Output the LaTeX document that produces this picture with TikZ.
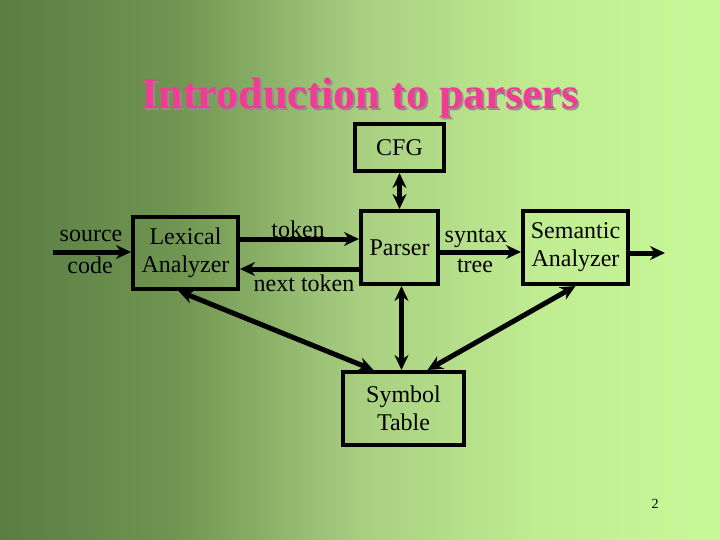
\documentclass[tikz,border=0pt]{standalone}
\usepackage{fontspec}
\setmainfont{Liberation Serif}
\usetikzlibrary{arrows.meta,positioning,calc}
\definecolor{slidepink}{HTML}{F03C96}
\definecolor{shadowgray}{HTML}{9A8A8C}
\definecolor{bgdark}{HTML}{5A7D42}
\definecolor{bgdim}{HTML}{709652}
\definecolor{bgmid}{HTML}{A8CF80}
\definecolor{bglight}{HTML}{C0EC92}
\definecolor{bgpale}{HTML}{C8F998}
\pgfdeclarehorizontalshading{slidebg}{100bp}{color(0bp)=(bgdark); color(25bp)=(bgdark); color(37.5bp)=(bgdim); color(50bp)=(bgmid); color(62.5bp)=(bglight); color(75bp)=(bgpale); color(100bp)=(bgpale)}
\newcommand{\slidebody}{\fontsize{24}{28}\selectfont}
\newcommand{\slidetitle}{\fontsize{44}{48}\selectfont\bfseries}

\begin{document}
\begin{tikzpicture}[x=1pt, y=-1pt,
  box/.style={draw, line width=4pt, inner sep=0pt, align=center, font=\slidebody},
  flow/.style={line width=5pt, -{Stealth[length=15pt,width=14pt]}},
  twoway/.style={line width=5pt, {Stealth[length=15pt,width=14pt]}-{Stealth[length=15pt,width=14pt]}},
  lbl/.style={inner sep=0pt, font=\slidebody}]
  % slide background
  \fill[shading=slidebg] (0,0) rectangle (720,540);
  \useasboundingbox (0,0) rectangle (720,540);

  % title with shadow
  \node[font=\slidetitle, text=shadowgray, anchor=base] (titleshadow) at (362,111) {Introduction to parsers};
  \node[font=\slidetitle, text=slidepink, anchor=base] (title) at (360,109) {Introduction to parsers};

  % boxes
  \node[box, minimum width=89pt, minimum height=47pt] (cfg) at (399.5,147.5) {CFG};
  \node[box, minimum width=77pt, minimum height=73pt] (par) at (399.5,247.5) {Parser};
  \node[box, minimum width=105pt, minimum height=73pt] (sem) at (575.5,247.5) {Semantic\\Analyzer};
  \node[box, minimum width=105pt, minimum height=72pt] (lex) at (185.5,253) {Lexical\\Analyzer};
  \node[box, minimum width=121pt, minimum height=73pt] (sym) at (403.5,408.5) {Symbol\\Table};

  \coordinate (src) at (53,252);
  \coordinate (out) at (665,253);

  % arrows
  \draw[flow] (src) -- (src -| lex.west);
  \draw[flow] ([yshift=14pt]lex.east) -- ([yshift=14pt]lex.east -| par.west);
  \draw[flow] ([yshift=-16pt]lex.east -| par.west) -- ([yshift=-16pt]lex.east);
  \draw[twoway] (cfg) -- (par);
  \draw[flow] ([yshift=-4.5pt]par.east) -- ([yshift=-4.5pt]par.east -| sem.west);
  \draw[flow] (sem.east |- out) -- (out);
  \draw[twoway] ([xshift=2pt]par.south) -- ([xshift=2pt]par.south |- sym.north);
  \draw[twoway] ([xshift=-7pt]lex.south) -- ([xshift=-30pt]sym.north);
  \draw[twoway] (sem.south) -- ([xshift=24pt]sym.north);

  % labels
  \node[lbl] (srclbl) at (91,236) {source};
  \node[lbl] (codelbl) at (90,265) {code};
  \node[lbl] (toklbl) at (298,229) {token};
  \node[lbl] (nextlbl) at (304,283) {next token};
  \node[lbl] (synlbl) at (476,238) {syntax};
  \node[lbl] (treelbl) at (475,266) {tree};

  \node[font=\fontsize{14}{16}\selectfont] (pagenum) at (655,504) {2};
\end{tikzpicture}
\end{document}
